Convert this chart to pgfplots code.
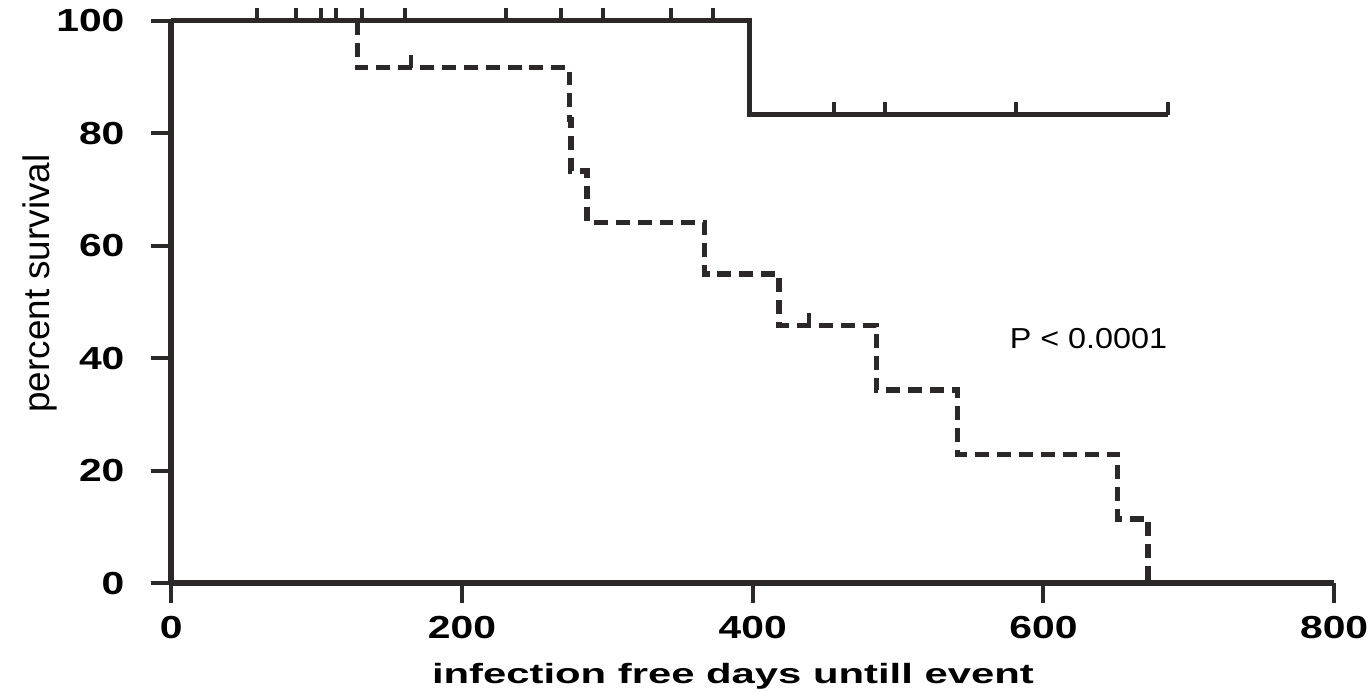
\documentclass[border=0pt]{standalone}
\usepackage{fontspec}
\setmainfont{Liberation Sans}
\usepackage{graphicx}
\usepackage{pgfplots}
\pgfplotsset{compat=1.18}
\definecolor{kmdark}{RGB}{45,40,40}

% censoring tick: short stroke upward from the curve
\pgfdeclareplotmark{cens}{%
  \pgfpathmoveto{\pgfpoint{0pt}{0pt}}%
  \pgfpathlineto{\pgfpoint{0pt}{6.5pt}}%
  \pgfusepathqstroke}

\begin{document}
\begin{tikzpicture}
  \begin{axis}[
      name=ax,
      scale only axis,
      width=584pt,
      height=282.5pt,
      xmin=0, xmax=800,
      ymin=0, ymax=100,
      xtick={0,200,...,800},
      ytick={0,20,...,100},
      axis lines=left,
      axis line style={-, line width=3pt, kmdark},
      tick align=outside,
      major tick length=10pt,
      major tick style={line width=2pt, kmdark},
      clip=false,
      tick label style={font=\fontsize{16}{18}\selectfont\bfseries},
      xticklabel style={yshift=-3pt},
      yticklabel style={xshift=-10pt},
      xticklabel={\scalebox{1.28}[1]{\pgfmathprintnumber[assume math mode=true]{\tick}}},
      yticklabel={\scalebox{1.28}[1]{\pgfmathprintnumber[assume math mode=true]{\tick}}},
      xlabel={\scalebox{1.5}[1]{infection free days untill event}},
      xlabel style={font=\fontsize{14}{16}\selectfont\bfseries,
        at={(axis description cs:0.483,-0.165)}, anchor=center},
      ylabel={percent survival},
      ylabel style={font=\fontsize{18.5}{20}\selectfont,
        at={(axis description cs:-0.113,0.533)}, anchor=center},
    ]
    % group 2 (dashed); its stretch at 100 is hidden under the solid curve
    \addplot[const plot, kmdark, line width=2.7pt, dash pattern=on 7pt off 4pt] coordinates {
      (128,100) (128,91.67) (274,82.5) (275,73.33) (286,64.17) (367,55.0)
      (418,45.83) (485,34.38) (541,22.92) (651,11.46) (672,0)
    };
    \addplot[only marks, mark=cens, kmdark, mark options={line width=2pt}] coordinates {
      (165,91.67) (439,45.83)
    };
    % group 1 (solid)
    \addplot[const plot, kmdark, line width=2.5pt] coordinates {
      (0,100) (398,83.33) (686,83.33)
    };
    \addplot[only marks, mark=cens, kmdark, mark options={line width=2pt}] coordinates {
      (59,100) (86,100) (103,100) (113,100) (131,100) (161,100)
      (230,100) (268,100) (297,100) (344,100) (373,100)
      (456,83.33) (491,83.33) (581,83.33) (686,83.33)
    };
    \node[font=\fontsize{14.5}{16}\selectfont] at (axis cs:631,43.5)
      {\scalebox{1.12}[1]{P < 0.0001}};
  \end{axis}
  \pgfresetboundingbox
  \path[use as bounding box] ([xshift=-86pt,yshift=-54.5pt]ax.south west)
    rectangle ([xshift=18pt,yshift=10.5pt]ax.north east);
\end{tikzpicture}
\end{document}
